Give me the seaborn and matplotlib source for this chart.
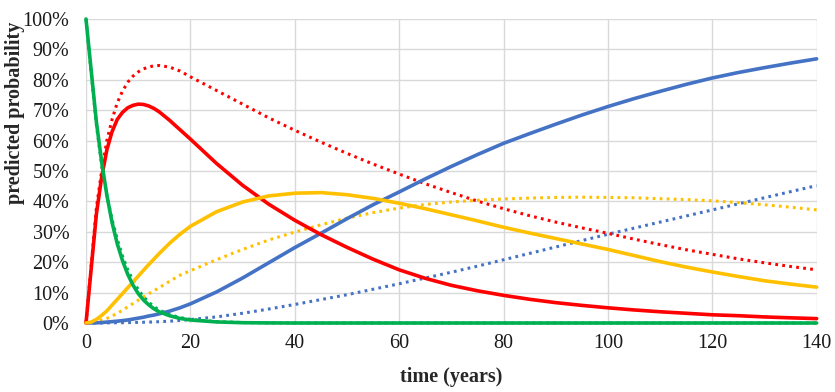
import numpy as np
import matplotlib
matplotlib.use("Agg")
import matplotlib.pyplot as plt
import seaborn as sns
from matplotlib.ticker import PercentFormatter

# values (percent)
years = [0, 1, 2, 3, 4, 5, 6, 7, 8, 9, 10, 11, 12, 13, 14, 16, 18, 20, 25, 30, 35, 40,
         45, 50, 55, 60, 65, 70, 75, 80, 85, 90, 95, 100, 105, 110, 115, 120, 125,
         130, 135, 140]

green_solid = [100, 83, 66, 53, 42, 33, 26, 20.5, 16, 12.5, 9.7, 7.6, 6, 4.7, 3.7,
               2.4, 1.5, 1, 0.35, 0.1, 0.03, 0, 0, 0, 0, 0, 0, 0, 0, 0, 0, 0, 0, 0,
               0, 0, 0, 0, 0, 0, 0, 0]
green_dotted = [100, 82, 65, 52, 42, 34, 27.5, 22, 17.5, 14, 11, 8.7, 6.9, 5.4, 4.3,
                2.8, 1.8, 1.2, 0.45, 0.15, 0.05, 0, 0, 0, 0, 0, 0, 0, 0, 0, 0, 0, 0,
                0, 0, 0, 0, 0, 0, 0, 0, 0]
red_solid = [0, 18, 36, 48, 57, 63, 67, 69.3, 70.8, 71.6, 72, 71.9, 71.4, 70.6, 69.5,
             66.7, 63.6, 60.5, 52.5, 45.3, 39.1, 33.8, 29.1, 24.9, 21.0, 17.5, 14.7,
             12.4, 10.6, 9.1, 7.8, 6.7, 5.8, 5, 4.3, 3.7, 3.2, 2.7, 2.4, 2.0, 1.7, 1.45]
red_dotted = [0, 19, 38, 50, 60, 67, 72.5, 76.3, 79.2, 81.2, 82.6, 83.6, 84.2, 84.6,
              84.7, 84.2, 82.9, 81, 76.5, 72, 67.5, 63.4, 59.5, 55.8, 52.3, 49, 45.8,
              42.9, 40.1, 37.6, 35.3, 33.2, 31.3, 29.5, 27.6, 25.8, 24.1, 22.6, 21.1,
              19.8, 18.6, 17.5]
yellow_solid = [0, 0.3, 1.2, 2.5, 4, 5.9, 7.8, 9.7, 11.6, 13.5, 15.4, 17.3, 19.2, 21,
                22.8, 26.2, 29.2, 31.8, 36.6, 39.8, 41.8, 42.7, 42.9, 42.2, 41, 39.4,
                37.6, 35.6, 33.6, 31.5, 29.6, 27.8, 26, 24.2, 22.2, 20.2, 18.4, 16.8,
                15.3, 13.9, 12.8, 11.8]
yellow_dotted = [0, 0.1, 0.5, 1, 1.5, 2.3, 3.2, 4.2, 5.3, 6.4, 7.5, 8.6, 9.6, 10.6,
                 11.6, 13.7, 15.7, 17.2, 20.8, 24.2, 27.3, 29.9, 32.3, 34.5, 36.3, 37.8,
                 39, 39.8, 40.4, 40.8, 41.1, 41.3, 41.4, 41.3, 41.2, 40.9, 40.6, 40.2,
                 39.6, 38.9, 38.1, 37.2]
blue_solid = [0, 0.01, 0.05, 0.15, 0.3, 0.45, 0.6, 0.8, 1, 1.3, 1.6, 1.9, 2.3, 2.6, 3,
              3.9, 5, 6.3, 10.2, 14.8, 19.8, 24.8, 29.5, 34.3, 38.9, 43.1, 47.4, 51.5,
              55.4, 59.1, 62.3, 65.4, 68.4, 71.2, 73.8, 76.2, 78.5, 80.6, 82.4, 84,
              85.5, 86.9]
blue_dotted = [0, 0, 0.01, 0.02, 0.04, 0.06, 0.08, 0.1, 0.13, 0.16, 0.2, 0.25, 0.3,
               0.36, 0.43, 0.6, 0.85, 1.15, 2, 3.2, 4.6, 6.1, 7.7, 9.3, 11.1, 12.9,
               14.8, 16.7, 18.7, 20.8, 22.9, 25, 27.1, 29.2, 31.2, 33.2, 35.2, 37.2,
               39.2, 41.2, 43.2, 45.2]

sns.set_style("white")
plt.rcParams["font.family"] = ["Liberation Serif", "DejaVu Serif"]

fig, ax = plt.subplots(figsize=(8.35, 3.92), dpi=100)
fig.subplots_adjust(left=0.103, right=0.978, top=0.9515, bottom=0.176)

x = np.array(years)
dot = (0, (0.9, 1.4))
series = [
    (blue_dotted, "#4472C4", dot, 2.2),
    (red_dotted, "#FF0000", dot, 2.2),
    (yellow_dotted, "#FFC000", dot, 2.2),
    (green_dotted, "#00B050", dot, 2.2),
    (blue_solid, "#4472C4", "-", 2.6),
    (red_solid, "#FF0000", "-", 2.6),
    (yellow_solid, "#FFC000", "-", 2.6),
    (green_solid, "#00B050", "-", 2.6),
]
for vals, col, ls, lw in series:
    sns.lineplot(x=x, y=np.array(vals) / 100, ax=ax, color=col, linewidth=lw,
                 errorbar=None, clip_on=False)
    ax.lines[-1].set_linestyle(ls)
    ax.lines[-1].set_solid_joinstyle("round")

ax.set_xlim(0, 140)
ax.set_ylim(0, 1)
ax.set_xticks(range(0, 141, 20))
ax.set_yticks(np.linspace(0, 1, 11))
ax.yaxis.set_major_formatter(PercentFormatter(1.0, decimals=0))
ax.grid(True, color="#D9D9D9", linewidth=1)
for s in ax.spines.values():
    s.set_visible(False)
ax.tick_params(axis="both", length=0, labelsize=14.5, colors="#1a1a1a")
ax.tick_params(axis="y", pad=12)
ax.tick_params(axis="x", pad=8)
ax.set_xlabel("time (years)", fontsize=14.5, fontweight="bold", labelpad=10)
ax.set_ylabel("predicted probability", fontsize=14.5, fontweight="bold")
ax.yaxis.set_label_coords(-0.083, 0.69)

fig.savefig("out.png", dpi=100)
